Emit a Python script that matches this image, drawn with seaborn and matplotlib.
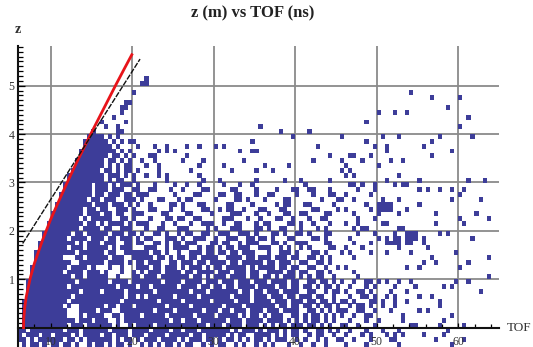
import numpy as np
import pandas as pd
import matplotlib
matplotlib.use("Agg")
import matplotlib.pyplot as plt
from matplotlib.path import Path
from matplotlib.markers import MarkerStyle
import seaborn as sns

# Hit occupancy map: one row per 0.1 m slice of z (first row is 5.2-5.3 m),
# one column per 0.5 ns TOF bin starting at 6 ns, written in groups of 10 bins.
TOF_START = 6.0
TOF_BIN = 0.5
Z_TOP = 5.3
Z_BIN = 0.1
N_BINS = 118
E = ".........."
hit_rows = [
    f"{E} {E} {E} {E} {E} {E} {E} {E} {E} {E} {E} ........",
    f"{E} {E} {E} .#........ {E} {E} {E} {E} {E} {E} {E} ........",
    f"{E} {E} {E} ##........ {E} {E} {E} {E} {E} {E} {E} ........",
    f"{E} {E} {E} {E} {E} {E} {E} {E} {E} {E} {E} ........",
    f"{E} {E} ........#. {E} {E} {E} {E} {E} {E} ......#... {E} ........",
    f"{E} {E} {E} {E} {E} {E} {E} {E} {E} {E} .#......#. ........",
    f"{E} {E} ......##.. {E} {E} {E} {E} {E} {E} {E} {E} ........",
    f"{E} {E} .....##... {E} {E} {E} {E} {E} {E} {E} .....#.... ........",
    f"{E} {E} .....#.... {E} {E} {E} {E} {E} ........#. ..#..#.... {E} ........",
    f"{E} {E} ...#...... {E} {E} {E} {E} {E} {E} {E} {E} #.......",
    f"{E} {E} #.....#... {E} {E} {E} {E} {E} .....#.... {E} {E} ........",
    f"{E} {E} .#..#..... {E} {E} .........# {E} {E} {E} {E} ........#. ........",
    f"{E} ........#. ....##.... {E} {E} {E} ....#..... .#........ {E} {E} {E} ........",
    f"{E} .......### #.#.#..... {E} {E} {E} .......#.. .........# .........# ...#...... ...#...... .#......",
    f"{E} ......#### ##.#.#.##. {E} {E} .......#.. {E} {E} .....#.... {E} .#........ ........",
    f"{E} ......#### ###.#....# ...#..#... .#..#...#. #......... {E} ...#...... .......#.. #........# {E} ........",
    f"{E} .....##### ####.#.#.. ....#.#.#. {E} ....#..##. {E} {E} {E} #......... ......#... ........",
    f"{E} .....##### ##.##.#.#. ..##...... .#........ {E} {E} ......#... .##...#... {E} .#........ ........",
    f"{E} ....###### #.##.#.#.. #..#...... #....#.... .....#.... {E} ..#......# ....#..... .#..#..... {E} ........",
    f"{E} ....###### #.#.#.##.. .#..#..... ....#..... #......... #.....#... {E} #.......#. {E} {E} ........",
    f"{E} ...####### .##.#.##.# ....#..... ..#....... ..#.....#. ..#....... .........# .#........ {E} {E} ........",
    f"{E} ..######## #.###.#.#. .#..#.#... ....#..... {E} {E} {E} #.#....... ...#...... {E} ........",
    f"{E} ..######## #.#.##..#. ......#... .....#...# ........#. .....#...# ......#... {E} #.......#. {E} #...#...",
    f"{E} .#######.# ##.#.###.# ...#....#. .#..#..... #...#..#.. {E} #......... .##.#..#.. ..#.##.... {E} ........",
    f"{E} .#######.# ##.###..## ..##...#.. #....##... ..##....#. ...#...##. .##...#... ...#...#.. ........#. #..#..#..# ........",
    f"{E} ########.# #.###.##.# ##......#. ...##....# #..##...#. .##.....#. ..#...##.. #.....#... {E} ........#. ........",
    f"{E} #######.## .###..###. #...##...# .##.....#. ...##.#... #....##... ....#...## ..#......# ...#...... ......#... ...#....",
    ".........# ########.# ##.###.#.# ..#....##. #...##.... .##....#.. ...#.##... ##.....#.. .....#..## ##......#. .......... ........",
    ".........# ######.##. ##..###.#. ..##...#.. #....##..# .##..#...# #...##.... ..##....#. #.....#.## ##...#.... .......... ........",
    "........## ######.### .##.##..## #....##... .##....#.. ..###...#. .#...##..# #....##... ..#.....#. ...#...... ..#....... ..#.....",
    "........## #####.#.## ###..##.#. ..#...##.# #..##..... ###...#..# ...##..#.. .#..##.... ...#...#.. .......... ........#. .....#..",
    ".......### ######.##. #.####.#.# ##...#..#. ..#..###.. #..##...#. ##....##.# ..#...#... #..#.....# #......... ..#......# ........",
    ".......### #####.#### .##..###.. .#..##...# ##....#.#. ..###...## .#..##...# ...#.#.... ..#.##.... ...##..... .......... ........",
    "......#### ###.##.### ##.###.##. #..##.#..# .##..##..# ##..###.#. ..##.#..## .#...##... ...#...#.. ..#..###.. ...#.#.... ........",
    "......#### ##.####.## #.##.###.# .##...###. #..###..#. .###..##.# #.#...##.. ..##.#.... .#......#. #.##.###.# .......... .#......",
    ".....##### ####.#.### .###..##.# #..##.#.## .###...##. ##..#.###. ..##.#..## #....##... ..#...#... ####.##..# .......... ........",
    ".....##### ##.###.### ##.#.###.. .###..#.## ##..#.##.# .##.###..# ##..#.#..# .#....##.. #...#..... ...#...... #......... ........",
    "....###### ####.##### #.##..#### ##.##.#..# ..###.##.# #.##.###.. .#..###.#. ..##.#...# .#....#... #.....#... .......#.. ........",
    "....###### #...##.### ##.###..## ###.##.#.# #.##.####. .####.##.# ##.###.##. .##.#.#... ..#....... .......... .#........ .....#..",
    "....###### ###..##### #.####.#.# #.###..##. ###.##.### #.##.##### .##.###..# #..##.#... .......... .........# ..#....... #.......",
    "...####### ##.####.#. ..#..#...# ##.##.###. #.###.#.## .#####.#.# ###.##.##. .##..#..#. #......... .....#..#. ........#. ........",
    "...####### #.####.### .#...#..#. #.###.#### .##.####.# ##.###.##. .####.##.# #..##.#... ..#....... .......... .......... ........",
    "...####### ###.##.### ##..#...## .###.##### ##.##.#.## #.####.##. ##.#.###.# .#.##..#.. ...#...... .......... .......... .....#..",
    "..######## ####.##### ##.####.## #####.#### .####.###. ###.###.## #.####.##. .##.##.#.# ..#..##.#. #..#..#... .......#.. #.......",
    "..######## ##.####### ####.####. ##.######. ####.##.## .##.####.# ###.##.##. ##.#.##.#. .#...#.#.. ..#....#.. ....#.#... ........",
    "..######## #####.#### .#####.### ###.###### ##.###.### ####.##.## .###.####. .##..#.##. #..##.#... .#...#.... .......... ...#....",
    "..######## ###.###### ######.##. #.######.# ####.##### ##.####.## #.###.##.# ##.##..#.. .#..##.#.. #.#.....#. .#........ ........",
    ".######### ##.####### #####.#### ####.##### .######.## ###.###.## ##.###.### .##.##.#.# #.#...##.# ..#..#.... ...#...... ........",
    ".######### #.#..##### #.##.###.# ######.### ##.####### .####.#### ###.##.##. ##.#.##.#. .#.##.#..# ..#....... ...#...... ........",
    ".######### ##...####. ###..##### ###.####.# #####.###. ##.###.### .###.####. .##.#.#.## #..##..#.. .#......#. #......... ........",
    ".######### ##...#.### #..##.#### .#####.### ###.####.# ####.#.##. #.###..##. #.##.#.#.# ..#..##... ....#..... ......#... ........",
    ".######### ####.###.# ##..#.#### #######.## .###.##### #.###.#### .####.#.#. #.##.#.#.. .#...#..#. ....#..... ....#..... ........",
    ".######### ##.###.### ###.#..#.# ###.###### ######.### .####.###. #.#.##.### .##.#.#..# #..#...#.. ......##.. ...#.....# ........",
    "##.####### #.###.#### ##.####.## ##.####.## .###.##### ##.#.###.# .###.#.##. #..##.#.#. .#...#...# ...#...... .....#.... ........",
    "#.###.##.# ###.#.#### .##.###.## #.####.### ##.##.#### #.#.##..## ##.#.#.##. .#.##..#.. #...#.#... #.#.#....# ....#..... ........",
    "##.#.##### #.##.#.### ###.#.##.# .###.####. #.###.##.# .##.#.#.## .#.###..#. #..#.#..## ..#...#... .##....... ..#......# ........",
    ".#.##.#.## .##.#..#.# #.#.##.#.. #.#.#.##.# .##..#.#.# #..#.#..#. #.#...#..# ..#..#.... #....#.... ...#...... ......#... ........",
]

# Kinematic limit curve (red) and tangent reference line (black)
limit_tof = [6.67, 6.68, 6.70, 6.80, 7.0, 7.5, 8.0, 9.0, 10.0, 11.0, 12.0,
             13.0, 14.0, 15.0, 16.0, 17.0, 18.0, 19.0, 19.95]
limit_z = [0.0, 0.13, 0.20, 0.40, 0.64, 1.03, 1.33, 1.81, 2.24, 2.62, 2.99,
           3.35, 3.69, 4.03, 4.36, 4.69, 5.02, 5.34, 5.64]
ref_tof = [6.56, 20.96]
ref_z = [1.74, 5.55]

# Axis ticks
x_major = [10, 20, 30, 40, 50, 60]
x_minor = [t for t in range(8, 65, 2) if t % 10]
y_major = [1, 2, 3, 4, 5]
y_minor = [round(0.1 * k, 1) for k in range(1, 59) if k % 10]

# Decode the occupancy map into hit coordinates (bin centres)
hit_tof, hit_z = [], []
for r, row in enumerate(hit_rows):
    cells = "".join(g.ljust(10, ".")[:10] for g in row.split())[:N_BINS]
    for c, ch in enumerate(cells):
        if ch == "#":
            hit_tof.append(TOF_START + TOF_BIN * (c + 0.5))
            hit_z.append(Z_TOP - Z_BIN * (r + 0.5))
hits = pd.DataFrame({"TOF": hit_tof, "z": hit_z})

plt.rcParams["font.family"] = ["Liberation Serif", "DejaVu Serif"]

W, H = 533, 347
fig = plt.figure(figsize=(W / 100, H / 100), dpi=100)
ax = fig.add_axes([18.1 / W, 0.0, (499.0 - 18.1) / W, (347 - 46) / H])
ax.set_xlim(6.0, 65.0)
ax.set_ylim(-0.399, 5.82)

# grid
grid_c = "#8a8a8a"
ax.vlines(x_major, 0, 5.82, colors=grid_c, lw=1.3, zorder=0.5)
ax.hlines(y_major, 6.0, 65.0, colors=grid_c, lw=1.3, zorder=0.5)

# hits as small filled rectangles
rect = Path([(-0.85, -1), (0.85, -1), (0.85, 1), (-0.85, 1), (-0.85, -1)],
            [Path.MOVETO, Path.LINETO, Path.LINETO, Path.LINETO, Path.CLOSEPOLY])
sns.scatterplot(data=hits, x="TOF", y="z", marker=MarkerStyle(rect), s=12.6,
                color="#3d3d99", edgecolor="none", linewidth=0,
                legend=False, ax=ax, zorder=1)

sns.lineplot(x=limit_tof, y=limit_z, sort=False, estimator=None,
             color="#e8141a", lw=2.0, ax=ax, zorder=4)
sns.lineplot(x=ref_tof, y=ref_z, sort=False, estimator=None,
             color="#111111", lw=1.0, linestyle=(0, (4, 1)), ax=ax, zorder=5)

# axes through the origin of the plot range
for s in ("top", "right"):
    ax.spines[s].set_visible(False)
ax.spines["bottom"].set_position(("data", 0))
for s in ("left", "bottom"):
    ax.spines[s].set_linewidth(1.5)
    ax.spines[s].set_color("#111111")
    ax.spines[s].set_zorder(3)

ax.set_xticks(x_major)
ax.set_xticks(x_minor, minor=True)
ax.set_xticklabels([str(v) for v in x_major])
ax.set_yticks(y_major)
ax.set_yticks(y_minor, minor=True)
ax.set_yticklabels([str(v) for v in y_major])
ax.tick_params(axis="x", which="major", direction="in", length=3.5, width=0.9,
               pad=6, labelsize=8.5, labelcolor="#333333")
ax.tick_params(axis="x", which="minor", direction="in", length=3.0, width=0.9)
ax.tick_params(axis="y", which="major", direction="in", length=5, width=0.9,
               pad=2.5, labelsize=8.5, labelcolor="#333333")
ax.tick_params(axis="y", which="minor", direction="in", length=3.5, width=0.9)
ax.set_xlabel("")
ax.set_ylabel("")

fig.text(253 / W, 1 - 13 / H, "z (m) vs TOF (ns)", ha="center", va="center",
         fontsize=12, fontweight="bold", color="#222222")
fig.text(17.5 / W, 1 - 29.5 / H, "z", ha="center", va="center",
         fontsize=10, fontweight="bold", color="#333333")
fig.text(507 / W, 1 - 328 / H, "TOF", ha="left", va="center",
         fontsize=9.5, color="#333333")

fig.savefig("out.png", dpi=100, facecolor="white")
